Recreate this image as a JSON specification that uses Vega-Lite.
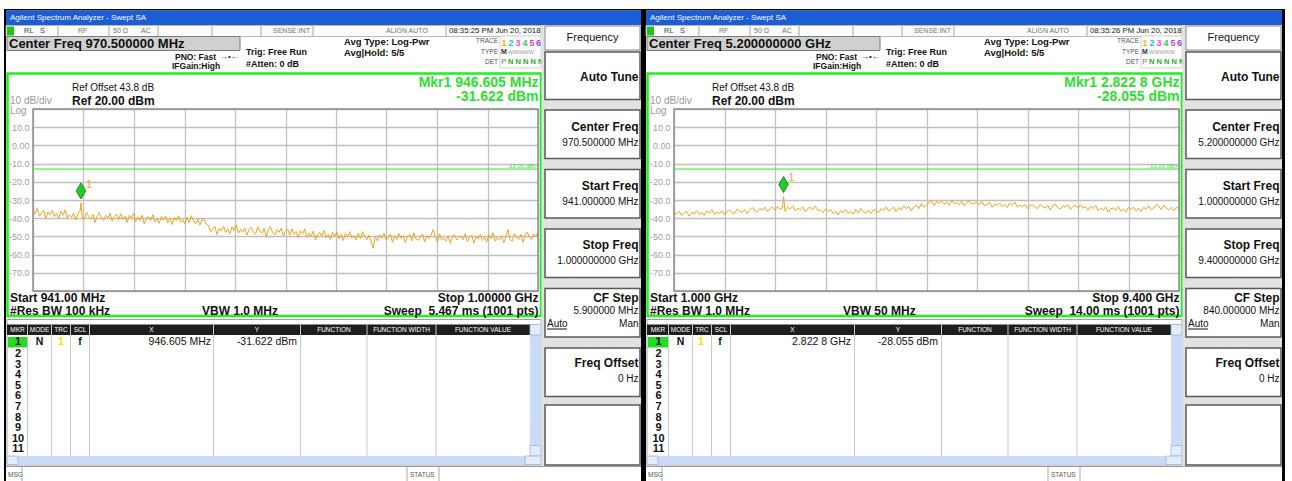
{
"$schema":"https://vega.github.io/schema/vega-lite/v6.json",
"background":"white",
"padding":{"left":4,"top":8,"right":0,"bottom":0},
"spacing":0,
"config":{"view":{"stroke":null},"font":"Liberation Sans","text":{"font":"Liberation Sans"},"axis":{"minExtent":0,"labelOverlap":false}},
"datasets":{
"left":[{"f":941.00,"p":-35.3},{"f":941.25,"p":-37.6},{"f":941.50,"p":-34.6},{"f":941.75,"p":-38.9},{"f":942.00,"p":-36.9},{"f":942.25,"p":-35.7},{"f":942.50,"p":-40.1},{"f":942.75,"p":-36.6},{"f":943.00,"p":-38.1},{"f":943.25,"p":-35.7},{"f":943.50,"p":-39.1},{"f":943.75,"p":-37.3},{"f":944.00,"p":-40.2},{"f":944.25,"p":-36.2},{"f":944.50,"p":-38.4},{"f":944.75,"p":-35.4},{"f":945.00,"p":-40.0},{"f":945.25,"p":-38.1},{"f":945.50,"p":-39.5},{"f":945.75,"p":-37.2},{"f":946.00,"p":-41.0},{"f":946.25,"p":-37.8},{"f":946.50,"p":-36.0},{"f":946.605,"p":-31.6},{"f":946.75,"p":-39.4},{"f":947.00,"p":-40.7},{"f":947.25,"p":-36.7},{"f":947.50,"p":-39.1},{"f":947.75,"p":-40.5},{"f":948.00,"p":-37.9},{"f":948.25,"p":-42.4},{"f":948.50,"p":-38.7},{"f":948.75,"p":-36.9},{"f":949.00,"p":-40.1},{"f":949.25,"p":-41.3},{"f":949.50,"p":-38.4},{"f":949.75,"p":-39.8},{"f":950.00,"p":-37.3},{"f":950.25,"p":-41.6},{"f":950.50,"p":-39.0},{"f":950.75,"p":-37.8},{"f":951.00,"p":-41.1},{"f":951.25,"p":-37.6},{"f":951.50,"p":-40.5},{"f":951.75,"p":-38.9},{"f":952.00,"p":-42.3},{"f":952.25,"p":-38.4},{"f":952.50,"p":-40.1},{"f":952.75,"p":-37.3},{"f":953.00,"p":-42.0},{"f":953.25,"p":-39.5},{"f":953.50,"p":-41.3},{"f":953.75,"p":-38.3},{"f":954.00,"p":-43.1},{"f":954.25,"p":-40.0},{"f":954.50,"p":-39.2},{"f":954.75,"p":-41.2},{"f":955.00,"p":-38.0},{"f":955.25,"p":-42.0},{"f":955.50,"p":-40.4},{"f":955.75,"p":-42.8},{"f":956.00,"p":-39.1},{"f":956.25,"p":-41.1},{"f":956.50,"p":-38.8},{"f":956.75,"p":-42.5},{"f":957.00,"p":-40.2},{"f":957.25,"p":-43.5},{"f":957.50,"p":-39.7},{"f":957.75,"p":-41.5},{"f":958.00,"p":-38.7},{"f":958.25,"p":-42.1},{"f":958.50,"p":-40.8},{"f":958.75,"p":-43.2},{"f":959.00,"p":-39.5},{"f":959.25,"p":-42.6},{"f":959.50,"p":-38.6},{"f":959.75,"p":-41.6},{"f":960.00,"p":-43.1},{"f":960.25,"p":-40.5},{"f":960.50,"p":-43.9},{"f":960.75,"p":-40.8},{"f":961.00,"p":-40.8},{"f":961.25,"p":-43.3},{"f":961.50,"p":-44.0},{"f":961.75,"p":-47.4},{"f":962.00,"p":-45.7},{"f":962.25,"p":-44.6},{"f":962.50,"p":-49.0},{"f":962.75,"p":-45.5},{"f":963.00,"p":-47.0},{"f":963.25,"p":-44.5},{"f":963.50,"p":-47.8},{"f":963.75,"p":-45.9},{"f":964.00,"p":-48.7},{"f":964.25,"p":-44.7},{"f":964.50,"p":-46.7},{"f":964.75,"p":-43.6},{"f":965.00,"p":-48.2},{"f":965.25,"p":-46.2},{"f":965.50,"p":-47.7},{"f":965.75,"p":-45.4},{"f":966.00,"p":-49.3},{"f":966.25,"p":-46.1},{"f":966.50,"p":-45.0},{"f":966.75,"p":-47.8},{"f":967.00,"p":-48.7},{"f":967.25,"p":-44.7},{"f":967.50,"p":-47.0},{"f":967.75,"p":-48.3},{"f":968.00,"p":-45.7},{"f":968.25,"p":-50.1},{"f":968.50,"p":-46.5},{"f":968.75,"p":-44.7},{"f":969.00,"p":-48.0},{"f":969.25,"p":-49.2},{"f":969.50,"p":-46.4},{"f":969.75,"p":-47.8},{"f":970.00,"p":-45.4},{"f":970.25,"p":-49.7},{"f":970.50,"p":-47.2},{"f":970.75,"p":-46.0},{"f":971.00,"p":-49.3},{"f":971.25,"p":-45.9},{"f":971.50,"p":-48.8},{"f":971.75,"p":-47.3},{"f":972.00,"p":-50.7},{"f":972.25,"p":-46.9},{"f":972.50,"p":-48.6},{"f":972.75,"p":-45.9},{"f":973.00,"p":-50.6},{"f":973.25,"p":-48.2},{"f":973.50,"p":-50.0},{"f":973.75,"p":-47.1},{"f":974.00,"p":-51.8},{"f":974.25,"p":-48.8},{"f":974.50,"p":-47.9},{"f":974.75,"p":-50.0},{"f":975.00,"p":-46.7},{"f":975.25,"p":-50.8},{"f":975.50,"p":-49.1},{"f":975.75,"p":-51.6},{"f":976.00,"p":-47.8},{"f":976.25,"p":-49.9},{"f":976.50,"p":-47.5},{"f":976.75,"p":-51.3},{"f":977.00,"p":-48.9},{"f":977.25,"p":-52.3},{"f":977.50,"p":-48.4},{"f":977.75,"p":-50.3},{"f":978.00,"p":-47.4},{"f":978.25,"p":-50.9},{"f":978.50,"p":-49.6},{"f":978.75,"p":-52.0},{"f":979.00,"p":-48.3},{"f":979.25,"p":-51.4},{"f":979.50,"p":-47.4},{"f":979.75,"p":-50.4},{"f":980.00,"p":-51.9},{"f":980.25,"p":-49.3},{"f":980.50,"p":-52.7},{"f":980.75,"p":-56.5},{"f":981.00,"p":-49.9},{"f":981.25,"p":-52.5},{"f":981.50,"p":-49.1},{"f":981.75,"p":-51.0},{"f":982.00,"p":-48.2},{"f":982.25,"p":-51.9},{"f":982.50,"p":-50.6},{"f":982.75,"p":-48.7},{"f":983.00,"p":-53.2},{"f":983.25,"p":-49.6},{"f":983.50,"p":-51.7},{"f":983.75,"p":-48.4},{"f":984.00,"p":-51.1},{"f":984.25,"p":-49.5},{"f":984.50,"p":-53.6},{"f":984.75,"p":-50.2},{"f":985.00,"p":-48.9},{"f":985.25,"p":-52.5},{"f":985.50,"p":-48.0},{"f":985.75,"p":-51.4},{"f":986.00,"p":-52.2},{"f":986.25,"p":-50.3},{"f":986.50,"p":-48.7},{"f":986.75,"p":-53.1},{"f":987.00,"p":-49.6},{"f":987.25,"p":-51.1},{"f":987.50,"p":-49.2},{"f":987.75,"p":-46.3},{"f":988.00,"p":-50.2},{"f":988.25,"p":-53.1},{"f":988.50,"p":-48.5},{"f":988.75,"p":-51.8},{"f":989.00,"p":-50.9},{"f":989.25,"p":-52.7},{"f":989.50,"p":-49.7},{"f":989.75,"p":-53.8},{"f":990.00,"p":-50.5},{"f":990.25,"p":-49.1},{"f":990.50,"p":-52.0},{"f":990.75,"p":-50.8},{"f":991.00,"p":-49.8},{"f":991.25,"p":-51.8},{"f":991.50,"p":-48.6},{"f":991.75,"p":-52.9},{"f":992.00,"p":-50.7},{"f":992.25,"p":-49.4},{"f":992.50,"p":-53.7},{"f":992.75,"p":-50.1},{"f":993.00,"p":-51.5},{"f":993.25,"p":-49.0},{"f":993.50,"p":-52.3},{"f":993.75,"p":-50.4},{"f":994.00,"p":-53.2},{"f":994.25,"p":-49.2},{"f":994.50,"p":-51.2},{"f":994.75,"p":-48.1},{"f":995.00,"p":-52.6},{"f":995.25,"p":-50.6},{"f":995.50,"p":-52.0},{"f":995.75,"p":-49.7},{"f":996.00,"p":-53.5},{"f":996.25,"p":-50.3},{"f":996.50,"p":-46.2},{"f":996.75,"p":-51.9},{"f":997.00,"p":-52.5},{"f":997.25,"p":-48.5},{"f":997.50,"p":-50.5},{"f":997.75,"p":-51.8},{"f":998.00,"p":-48.9},{"f":998.25,"p":-53.3},{"f":998.50,"p":-49.4},{"f":998.75,"p":-47.6},{"f":999.00,"p":-50.6},{"f":999.25,"p":-51.8},{"f":999.50,"p":-48.7},{"f":999.75,"p":-50.1},{"f":1000.00,"p":-47.5}],
"right":[{"f":1000,"p":-36.8},{"f":1042,"p":-38.0},{"f":1084,"p":-36.1},{"f":1126,"p":-38.5},{"f":1168,"p":-37.2},{"f":1210,"p":-36.4},{"f":1252,"p":-38.9},{"f":1294,"p":-36.8},{"f":1336,"p":-37.6},{"f":1378,"p":-36.0},{"f":1420,"p":-38.0},{"f":1462,"p":-36.8},{"f":1504,"p":-38.4},{"f":1546,"p":-36.0},{"f":1588,"p":-37.1},{"f":1630,"p":-35.3},{"f":1672,"p":-37.9},{"f":1714,"p":-36.7},{"f":1756,"p":-37.4},{"f":1798,"p":-36.0},{"f":1840,"p":-38.3},{"f":1882,"p":-36.3},{"f":1924,"p":-35.5},{"f":1966,"p":-37.0},{"f":2008,"p":-37.4},{"f":2050,"p":-34.9},{"f":2092,"p":-36.1},{"f":2134,"p":-36.8},{"f":2176,"p":-35.1},{"f":2218,"p":-37.6},{"f":2260,"p":-35.3},{"f":2302,"p":-34.1},{"f":2344,"p":-36.0},{"f":2386,"p":-36.6},{"f":2428,"p":-34.7},{"f":2470,"p":-35.5},{"f":2512,"p":-33.9},{"f":2554,"p":-36.4},{"f":2596,"p":-34.7},{"f":2638,"p":-33.9},{"f":2680,"p":-35.6},{"f":2722,"p":-33.5},{"f":2764,"p":-35.2},{"f":2806,"p":-34.3},{"f":2822.8,"p":-28.1},{"f":2848,"p":-36.2},{"f":2890,"p":-33.9},{"f":2932,"p":-34.9},{"f":2974,"p":-33.2},{"f":3016,"p":-35.9},{"f":3058,"p":-34.4},{"f":3100,"p":-35.5},{"f":3142,"p":-33.7},{"f":3184,"p":-36.5},{"f":3226,"p":-34.6},{"f":3268,"p":-34.1},{"f":3310,"p":-35.3},{"f":3352,"p":-33.3},{"f":3394,"p":-35.9},{"f":3436,"p":-35.2},{"f":3478,"p":-36.9},{"f":3520,"p":-34.9},{"f":3562,"p":-36.4},{"f":3604,"p":-35.2},{"f":3646,"p":-37.5},{"f":3688,"p":-36.2},{"f":3730,"p":-38.3},{"f":3772,"p":-35.9},{"f":3814,"p":-37.0},{"f":3856,"p":-35.2},{"f":3898,"p":-37.2},{"f":3940,"p":-36.3},{"f":3982,"p":-37.7},{"f":4024,"p":-35.3},{"f":4066,"p":-37.2},{"f":4108,"p":-34.6},{"f":4150,"p":-36.4},{"f":4192,"p":-37.2},{"f":4234,"p":-35.5},{"f":4276,"p":-37.4},{"f":4318,"p":-35.4},{"f":4360,"p":-35.4},{"f":4402,"p":-36.9},{"f":4444,"p":-34.8},{"f":4486,"p":-35.8},{"f":4528,"p":-33.9},{"f":4570,"p":-36.0},{"f":4612,"p":-35.2},{"f":4654,"p":-33.9},{"f":4696,"p":-36.4},{"f":4738,"p":-34.2},{"f":4780,"p":-35.3},{"f":4822,"p":-33.2},{"f":4864,"p":-34.7},{"f":4906,"p":-33.6},{"f":4948,"p":-36.0},{"f":4990,"p":-33.8},{"f":5032,"p":-32.8},{"f":5074,"p":-34.8},{"f":5116,"p":-32.0},{"f":5158,"p":-34.0},{"f":5200,"p":-32.7},{"f":5242,"p":-31.4},{"f":5284,"p":-30.4},{"f":5326,"p":-33.0},{"f":5368,"p":-30.9},{"f":5410,"p":-31.8},{"f":5452,"p":-30.6},{"f":5494,"p":-32.3},{"f":5536,"p":-31.2},{"f":5578,"p":-32.9},{"f":5620,"p":-30.2},{"f":5662,"p":-32.1},{"f":5704,"p":-31.5},{"f":5746,"p":-32.6},{"f":5788,"p":-30.8},{"f":5830,"p":-33.3},{"f":5872,"p":-31.3},{"f":5914,"p":-30.6},{"f":5956,"p":-32.3},{"f":5998,"p":-31.7},{"f":6040,"p":-31.2},{"f":6082,"p":-32.5},{"f":6124,"p":-30.7},{"f":6166,"p":-33.3},{"f":6208,"p":-32.1},{"f":6250,"p":-31.4},{"f":6292,"p":-34.1},{"f":6334,"p":-32.1},{"f":6376,"p":-33.0},{"f":6418,"p":-31.6},{"f":6460,"p":-33.6},{"f":6502,"p":-32.4},{"f":6544,"p":-34.1},{"f":6586,"p":-31.7},{"f":6628,"p":-32.9},{"f":6670,"p":-31.1},{"f":6712,"p":-33.9},{"f":6754,"p":-32.8},{"f":6796,"p":-33.7},{"f":6838,"p":-32.4},{"f":6880,"p":-34.8},{"f":6922,"p":-33.0},{"f":6964,"p":-32.4},{"f":7006,"p":-34.1},{"f":7048,"p":-34.7},{"f":7090,"p":-32.4},{"f":7132,"p":-33.7},{"f":7174,"p":-34.5},{"f":7216,"p":-32.9},{"f":7258,"p":-35.5},{"f":7300,"p":-33.3},{"f":7342,"p":-32.2},{"f":7384,"p":-34.2},{"f":7426,"p":-34.9},{"f":7468,"p":-33.1},{"f":7510,"p":-34.0},{"f":7552,"p":-32.5},{"f":7594,"p":-35.1},{"f":7636,"p":-33.5},{"f":7678,"p":-32.8},{"f":7720,"p":-34.7},{"f":7762,"p":-32.7},{"f":7804,"p":-34.5},{"f":7846,"p":-33.7},{"f":7888,"p":-35.7},{"f":7930,"p":-33.5},{"f":7972,"p":-34.6},{"f":8014,"p":-33.0},{"f":8056,"p":-35.8},{"f":8098,"p":-34.4},{"f":8140,"p":-35.5},{"f":8182,"p":-33.8},{"f":8224,"p":-36.7},{"f":8266,"p":-34.8},{"f":8308,"p":-34.4},{"f":8350,"p":-35.6},{"f":8392,"p":-33.7},{"f":8434,"p":-36.1},{"f":8476,"p":-35.1},{"f":8518,"p":-36.5},{"f":8560,"p":-34.1},{"f":8602,"p":-35.3},{"f":8644,"p":-33.8},{"f":8686,"p":-36.0},{"f":8728,"p":-34.5},{"f":8770,"p":-36.5},{"f":8812,"p":-34.0},{"f":8854,"p":-35.1},{"f":8896,"p":-33.3},{"f":8938,"p":-35.3},{"f":8980,"p":-34.4},{"f":9022,"p":-32.4},{"f":9064,"p":-33.4},{"f":9106,"p":-35.3},{"f":9148,"p":-32.8},{"f":9190,"p":-34.6},{"f":9232,"p":-35.5},{"f":9274,"p":-33.9},{"f":9316,"p":-35.9},{"f":9358,"p":-34.0},{"f":9400,"p":-34.8}]
},
"hconcat":[
{
"width":505,"height":182,
"resolve":{"scale":{"x":"independent","y":"independent"}},
"layer":[
{"data":{"values":[{}]},"layer":[
{"mark":{"type":"rect","fill":"#000000"},"encoding":{"x":{"datum":4,"type":"quantitative","scale":{"domain":[33,538],"nice":false,"zero":false},"axis":null},"x2":{"datum":644},"y":{"datum":8,"type":"quantitative","scale":{"domain":[108,290],"nice":false,"zero":false,"reverse":true},"axis":null},"y2":{"datum":9.5}}},
{"mark":{"type":"rect","fill":"#000000"},"encoding":{"x":{"datum":4,"type":"quantitative","axis":null},"x2":{"datum":6},"y":{"datum":8,"type":"quantitative","axis":null},"y2":{"datum":481}}},
{"mark":{"type":"rect","fill":"#000000"},"encoding":{"x":{"datum":641,"type":"quantitative","axis":null},"x2":{"datum":644},"y":{"datum":8,"type":"quantitative","axis":null},"y2":{"datum":481}}},
{"mark":{"type":"rect","fill":"#1b5dd5"},"encoding":{"x":{"datum":6,"type":"quantitative","axis":null},"x2":{"datum":641},"y":{"datum":9.5,"type":"quantitative","axis":null},"y2":{"datum":24}}},
{"mark":{"type":"text","text":"Agilent Spectrum Analyzer - Swept SA","align":"left","baseline":"middle","fontSize":8,"fill":"#ffffff"},"encoding":{"x":{"datum":10,"type":"quantitative","axis":null},"y":{"datum":16.8,"type":"quantitative","axis":null}}},
{"mark":{"type":"rect","fill":"#fbfbfb","stroke":"#a8a8a8","strokeWidth":0.8},"encoding":{"x":{"datum":6,"type":"quantitative","axis":null},"x2":{"datum":541},"y":{"datum":24.5,"type":"quantitative","axis":null},"y2":{"datum":35.5}}},
{"mark":{"type":"rect","fill":"#1fc21f"},"encoding":{"x":{"datum":7,"type":"quantitative","axis":null},"x2":{"datum":14},"y":{"datum":25.5,"type":"quantitative","axis":null},"y2":{"datum":34.5}}},
{"mark":{"type":"rule","stroke":"#a8a8a8"},"encoding":{"x":{"datum":58,"type":"quantitative","axis":null},"y":{"datum":25,"type":"quantitative","axis":null},"y2":{"datum":35.5}}},
{"mark":{"type":"rule","stroke":"#a8a8a8"},"encoding":{"x":{"datum":109,"type":"quantitative","axis":null},"y":{"datum":25,"type":"quantitative","axis":null},"y2":{"datum":35.5}}},
{"mark":{"type":"rule","stroke":"#a8a8a8"},"encoding":{"x":{"datum":158,"type":"quantitative","axis":null},"y":{"datum":25,"type":"quantitative","axis":null},"y2":{"datum":35.5}}},
{"mark":{"type":"rule","stroke":"#a8a8a8"},"encoding":{"x":{"datum":212,"type":"quantitative","axis":null},"y":{"datum":25,"type":"quantitative","axis":null},"y2":{"datum":35.5}}},
{"mark":{"type":"rule","stroke":"#a8a8a8"},"encoding":{"x":{"datum":261,"type":"quantitative","axis":null},"y":{"datum":25,"type":"quantitative","axis":null},"y2":{"datum":35.5}}},
{"mark":{"type":"rule","stroke":"#a8a8a8"},"encoding":{"x":{"datum":313,"type":"quantitative","axis":null},"y":{"datum":25,"type":"quantitative","axis":null},"y2":{"datum":35.5}}},
{"mark":{"type":"rule","stroke":"#a8a8a8"},"encoding":{"x":{"datum":446,"type":"quantitative","axis":null},"y":{"datum":25,"type":"quantitative","axis":null},"y2":{"datum":35.5}}},
{"mark":{"type":"text","text":"RL","align":"left","baseline":"middle","fontSize":7.5,"fill":"#444444"},"encoding":{"x":{"datum":24,"type":"quantitative","axis":null},"y":{"datum":30,"type":"quantitative","axis":null}}},
{"mark":{"type":"text","text":"S","align":"left","baseline":"middle","fontSize":7.5,"fill":"#444444"},"encoding":{"x":{"datum":40,"type":"quantitative","axis":null},"y":{"datum":30,"type":"quantitative","axis":null}}},
{"mark":{"type":"text","text":"RF","align":"left","baseline":"middle","fontSize":7,"fill":"#777777"},"encoding":{"x":{"datum":78,"type":"quantitative","axis":null},"y":{"datum":30,"type":"quantitative","axis":null}}},
{"mark":{"type":"text","text":"50 Ω","align":"left","baseline":"middle","fontSize":7,"fill":"#777777"},"encoding":{"x":{"datum":113,"type":"quantitative","axis":null},"y":{"datum":30,"type":"quantitative","axis":null}}},
{"mark":{"type":"text","text":"AC","align":"left","baseline":"middle","fontSize":7,"fill":"#777777"},"encoding":{"x":{"datum":141,"type":"quantitative","axis":null},"y":{"datum":30,"type":"quantitative","axis":null}}},
{"mark":{"type":"text","text":"SENSE:INT","align":"left","baseline":"middle","fontSize":7,"fill":"#777777"},"encoding":{"x":{"datum":273,"type":"quantitative","axis":null},"y":{"datum":30,"type":"quantitative","axis":null}}},
{"mark":{"type":"text","text":"ALIGN AUTO","align":"left","baseline":"middle","fontSize":7,"fill":"#777777"},"encoding":{"x":{"datum":386,"type":"quantitative","axis":null},"y":{"datum":30,"type":"quantitative","axis":null}}},
{"mark":{"type":"text","text":"08:35:25 PM Jun 20, 2018","align":"left","baseline":"middle","fontSize":7.8,"fill":"#222222"},"encoding":{"x":{"datum":449,"type":"quantitative","axis":null},"y":{"datum":30,"type":"quantitative","axis":null}}},
{"mark":{"type":"rect","fill":"#d0d0d0","stroke":"#7a7a7a","strokeWidth":1},"encoding":{"x":{"datum":7,"type":"quantitative","axis":null},"x2":{"datum":240},"y":{"datum":35.5,"type":"quantitative","axis":null},"y2":{"datum":49.5}}},
{"mark":{"type":"text","text":"Center Freq 970.500000 MHz","align":"left","baseline":"middle","fontSize":13,"fontWeight":"bold","fill":"#111111"},"encoding":{"x":{"datum":9,"type":"quantitative","axis":null},"y":{"datum":42.8,"type":"quantitative","axis":null}}},
{"mark":{"type":"text","text":"PNO: Fast","align":"left","baseline":"middle","fontSize":8.5,"fontWeight":"bold","fill":"#111111"},"encoding":{"x":{"datum":175,"type":"quantitative","axis":null},"y":{"datum":55.5,"type":"quantitative","axis":null}}},
{"mark":{"type":"text","text":"→•←","align":"left","baseline":"middle","fontSize":8,"fill":"#222222"},"encoding":{"x":{"datum":220,"type":"quantitative","axis":null},"y":{"datum":55.5,"type":"quantitative","axis":null}}},
{"mark":{"type":"text","text":"IFGain:High","align":"left","baseline":"middle","fontSize":8.5,"fontWeight":"bold","fill":"#111111"},"encoding":{"x":{"datum":172,"type":"quantitative","axis":null},"y":{"datum":64.5,"type":"quantitative","axis":null}}},
{"mark":{"type":"text","text":"Trig: Free Run","align":"left","baseline":"middle","fontSize":9,"fontWeight":"bold","fill":"#111111"},"encoding":{"x":{"datum":246,"type":"quantitative","axis":null},"y":{"datum":51,"type":"quantitative","axis":null}}},
{"mark":{"type":"text","text":"#Atten: 0 dB","align":"left","baseline":"middle","fontSize":9,"fontWeight":"bold","fill":"#111111"},"encoding":{"x":{"datum":246,"type":"quantitative","axis":null},"y":{"datum":62.5,"type":"quantitative","axis":null}}},
{"mark":{"type":"text","text":"Avg Type: Log-Pwr","align":"left","baseline":"middle","fontSize":9.5,"fontWeight":"bold","fill":"#111111"},"encoding":{"x":{"datum":344,"type":"quantitative","axis":null},"y":{"datum":40.5,"type":"quantitative","axis":null}}},
{"mark":{"type":"text","text":"Avg|Hold: 5/5","align":"left","baseline":"middle","fontSize":9.5,"fontWeight":"bold","fill":"#111111"},"encoding":{"x":{"datum":344,"type":"quantitative","axis":null},"y":{"datum":51.5,"type":"quantitative","axis":null}}},
{"mark":{"type":"rect","fill":"#ffffff","stroke":"#c4c4c4","strokeWidth":0.8},"encoding":{"x":{"datum":500,"type":"quantitative","axis":null},"x2":{"datum":541},"y":{"datum":35,"type":"quantitative","axis":null},"y2":{"datum":67}}},
{"mark":{"type":"text","text":"TRACE","align":"right","baseline":"middle","fontSize":6.5,"fill":"#555555"},"encoding":{"x":{"datum":498,"type":"quantitative","axis":null},"y":{"datum":40,"type":"quantitative","axis":null}}},
{"mark":{"type":"text","text":"TYPE","align":"right","baseline":"middle","fontSize":6.5,"fill":"#555555"},"encoding":{"x":{"datum":498,"type":"quantitative","axis":null},"y":{"datum":50.5,"type":"quantitative","axis":null}}},
{"mark":{"type":"text","text":"DET","align":"right","baseline":"middle","fontSize":6.5,"fill":"#555555"},"encoding":{"x":{"datum":498,"type":"quantitative","axis":null},"y":{"datum":60.5,"type":"quantitative","axis":null}}},
{"mark":{"type":"text","text":"1","align":"center","baseline":"middle","fontSize":9,"fontWeight":"bold","fill":"#e6c000"},"encoding":{"x":{"datum":504,"type":"quantitative","axis":null},"y":{"datum":41.5,"type":"quantitative","axis":null}}},
{"mark":{"type":"text","text":"2","align":"center","baseline":"middle","fontSize":9,"fontWeight":"bold","fill":"#22bbee"},"encoding":{"x":{"datum":511,"type":"quantitative","axis":null},"y":{"datum":41.5,"type":"quantitative","axis":null}}},
{"mark":{"type":"text","text":"3","align":"center","baseline":"middle","fontSize":9,"fontWeight":"bold","fill":"#ff44ff"},"encoding":{"x":{"datum":518,"type":"quantitative","axis":null},"y":{"datum":41.5,"type":"quantitative","axis":null}}},
{"mark":{"type":"text","text":"4","align":"center","baseline":"middle","fontSize":9,"fontWeight":"bold","fill":"#33cc55"},"encoding":{"x":{"datum":525,"type":"quantitative","axis":null},"y":{"datum":41.5,"type":"quantitative","axis":null}}},
{"mark":{"type":"text","text":"5","align":"center","baseline":"middle","fontSize":9,"fontWeight":"bold","fill":"#dd44aa"},"encoding":{"x":{"datum":532,"type":"quantitative","axis":null},"y":{"datum":41.5,"type":"quantitative","axis":null}}},
{"mark":{"type":"text","text":"6","align":"center","baseline":"middle","fontSize":9,"fontWeight":"bold","fill":"#8844ff"},"encoding":{"x":{"datum":538.5,"type":"quantitative","axis":null},"y":{"datum":41.5,"type":"quantitative","axis":null}}},
{"mark":{"type":"text","text":"M","align":"center","baseline":"middle","fontSize":7,"fontWeight":"bold","fill":"#333333"},"encoding":{"x":{"datum":504,"type":"quantitative","axis":null},"y":{"datum":50.5,"type":"quantitative","axis":null}}},
{"mark":{"type":"text","text":"WWWWW","align":"left","baseline":"middle","fontSize":5.5,"fill":"#9a9a9a"},"encoding":{"x":{"datum":508,"type":"quantitative","axis":null},"y":{"datum":50.5,"type":"quantitative","axis":null}}},
{"mark":{"type":"text","text":"P","align":"center","baseline":"middle","fontSize":8,"fill":"#777777"},"encoding":{"x":{"datum":504,"type":"quantitative","axis":null},"y":{"datum":60.5,"type":"quantitative","axis":null}}},
{"mark":{"type":"text","text":"N N N N N","align":"left","baseline":"middle","fontSize":7.5,"fontWeight":"bold","fill":"#1fb01f"},"encoding":{"x":{"datum":508,"type":"quantitative","axis":null},"y":{"datum":60.5,"type":"quantitative","axis":null}}},
{"mark":{"type":"rect","fill":"transparent","stroke":"#1ff01f","strokeWidth":2.5},"encoding":{"x":{"datum":7.5,"type":"quantitative","axis":null},"x2":{"datum":541},"y":{"datum":72.5,"type":"quantitative","axis":null},"y2":{"datum":315}}},
{"mark":{"type":"text","text":"Ref Offset 43.8 dB","align":"left","baseline":"middle","fontSize":10,"fill":"#111111"},"encoding":{"x":{"datum":72,"type":"quantitative","axis":null},"y":{"datum":87,"type":"quantitative","axis":null}}},
{"mark":{"type":"text","text":"Ref 20.00 dBm","align":"left","baseline":"middle","fontSize":12,"fontWeight":"bold","fill":"#111111"},"encoding":{"x":{"datum":72,"type":"quantitative","axis":null},"y":{"datum":99.5,"type":"quantitative","axis":null}}},
{"mark":{"type":"text","text":"10 dB/div","align":"left","baseline":"middle","fontSize":10,"fill":"#9a9a9a"},"encoding":{"x":{"datum":10,"type":"quantitative","axis":null},"y":{"datum":100,"type":"quantitative","axis":null}}},
{"mark":{"type":"text","text":"Log","align":"left","baseline":"middle","fontSize":10,"fill":"#9a9a9a"},"encoding":{"x":{"datum":10,"type":"quantitative","axis":null},"y":{"datum":110,"type":"quantitative","axis":null}}},
{"mark":{"type":"text","text":"Mkr1 946.605 MHz","align":"right","baseline":"middle","fontSize":14,"fontWeight":"bold","fill":"#2fdf2f"},"encoding":{"x":{"datum":538.5,"type":"quantitative","axis":null},"y":{"datum":81.5,"type":"quantitative","axis":null}}},
{"mark":{"type":"text","text":"-31.622 dBm","align":"right","baseline":"middle","fontSize":14,"fontWeight":"bold","fill":"#2fdf2f"},"encoding":{"x":{"datum":538.5,"type":"quantitative","axis":null},"y":{"datum":96,"type":"quantitative","axis":null}}},
{"mark":{"type":"text","text":"Start 941.00 MHz","align":"left","baseline":"middle","fontSize":12,"fontWeight":"bold","fill":"#111111"},"encoding":{"x":{"datum":10,"type":"quantitative","axis":null},"y":{"datum":296.5,"type":"quantitative","axis":null}}},
{"mark":{"type":"text","text":"Stop 1.00000 GHz","align":"right","baseline":"middle","fontSize":12,"fontWeight":"bold","fill":"#111111"},"encoding":{"x":{"datum":538.5,"type":"quantitative","axis":null},"y":{"datum":296.5,"type":"quantitative","axis":null}}},
{"mark":{"type":"text","text":"#Res BW 100 kHz","align":"left","baseline":"middle","fontSize":12,"fontWeight":"bold","fill":"#111111"},"encoding":{"x":{"datum":10,"type":"quantitative","axis":null},"y":{"datum":309.5,"type":"quantitative","axis":null}}},
{"mark":{"type":"text","text":"VBW 1.0 MHz","align":"left","baseline":"middle","fontSize":12,"fontWeight":"bold","fill":"#111111"},"encoding":{"x":{"datum":202,"type":"quantitative","axis":null},"y":{"datum":309.5,"type":"quantitative","axis":null}}},
{"mark":{"type":"text","text":"Sweep\u00a0\u00a05.467 ms (1001 pts)","align":"right","baseline":"middle","fontSize":12,"fontWeight":"bold","fill":"#111111"},"encoding":{"x":{"datum":538.5,"type":"quantitative","axis":null},"y":{"datum":309.5,"type":"quantitative","axis":null}}},
{"mark":{"type":"rect","fill":"transparent","stroke":"#a0a0a0","strokeWidth":1},"encoding":{"x":{"datum":7,"type":"quantitative","axis":null},"x2":{"datum":541},"y":{"datum":318.5,"type":"quantitative","axis":null},"y2":{"datum":464}}},
{"mark":{"type":"rect","fill":"#1e1e1e"},"encoding":{"x":{"datum":7,"type":"quantitative","axis":null},"x2":{"datum":530},"y":{"datum":323.5,"type":"quantitative","axis":null},"y2":{"datum":334}}},
{"mark":{"type":"rule","stroke":"#c8c8c8"},"encoding":{"x":{"datum":27.5,"type":"quantitative","axis":null},"y":{"datum":323.5,"type":"quantitative","axis":null},"y2":{"datum":455}}},
{"mark":{"type":"rule","stroke":"#c8c8c8"},"encoding":{"x":{"datum":51.5,"type":"quantitative","axis":null},"y":{"datum":323.5,"type":"quantitative","axis":null},"y2":{"datum":455}}},
{"mark":{"type":"rule","stroke":"#c8c8c8"},"encoding":{"x":{"datum":70.5,"type":"quantitative","axis":null},"y":{"datum":323.5,"type":"quantitative","axis":null},"y2":{"datum":455}}},
{"mark":{"type":"rule","stroke":"#c8c8c8"},"encoding":{"x":{"datum":89.5,"type":"quantitative","axis":null},"y":{"datum":323.5,"type":"quantitative","axis":null},"y2":{"datum":455}}},
{"mark":{"type":"rule","stroke":"#c8c8c8"},"encoding":{"x":{"datum":213.5,"type":"quantitative","axis":null},"y":{"datum":323.5,"type":"quantitative","axis":null},"y2":{"datum":455}}},
{"mark":{"type":"rule","stroke":"#c8c8c8"},"encoding":{"x":{"datum":300.5,"type":"quantitative","axis":null},"y":{"datum":323.5,"type":"quantitative","axis":null},"y2":{"datum":455}}},
{"mark":{"type":"rule","stroke":"#c8c8c8"},"encoding":{"x":{"datum":367,"type":"quantitative","axis":null},"y":{"datum":323.5,"type":"quantitative","axis":null},"y2":{"datum":455}}},
{"mark":{"type":"rule","stroke":"#c8c8c8"},"encoding":{"x":{"datum":436,"type":"quantitative","axis":null},"y":{"datum":323.5,"type":"quantitative","axis":null},"y2":{"datum":455}}},
{"mark":{"type":"text","text":"MKR","align":"center","baseline":"middle","fontSize":6.5,"fill":"#ffffff"},"encoding":{"x":{"datum":17.5,"type":"quantitative","axis":null},"y":{"datum":329,"type":"quantitative","axis":null}}},
{"mark":{"type":"text","text":"MODE","align":"center","baseline":"middle","fontSize":6.5,"fill":"#ffffff"},"encoding":{"x":{"datum":39.5,"type":"quantitative","axis":null},"y":{"datum":329,"type":"quantitative","axis":null}}},
{"mark":{"type":"text","text":"TRC","align":"center","baseline":"middle","fontSize":6.5,"fill":"#ffffff"},"encoding":{"x":{"datum":61,"type":"quantitative","axis":null},"y":{"datum":329,"type":"quantitative","axis":null}}},
{"mark":{"type":"text","text":"SCL","align":"center","baseline":"middle","fontSize":6.5,"fill":"#ffffff"},"encoding":{"x":{"datum":80,"type":"quantitative","axis":null},"y":{"datum":329,"type":"quantitative","axis":null}}},
{"mark":{"type":"text","text":"X","align":"center","baseline":"middle","fontSize":6.5,"fill":"#ffffff"},"encoding":{"x":{"datum":151.5,"type":"quantitative","axis":null},"y":{"datum":329,"type":"quantitative","axis":null}}},
{"mark":{"type":"text","text":"Y","align":"center","baseline":"middle","fontSize":6.5,"fill":"#ffffff"},"encoding":{"x":{"datum":257,"type":"quantitative","axis":null},"y":{"datum":329,"type":"quantitative","axis":null}}},
{"mark":{"type":"text","text":"FUNCTION","align":"center","baseline":"middle","fontSize":6.5,"fill":"#ffffff"},"encoding":{"x":{"datum":334,"type":"quantitative","axis":null},"y":{"datum":329,"type":"quantitative","axis":null}}},
{"mark":{"type":"text","text":"FUNCTION WIDTH","align":"center","baseline":"middle","fontSize":6.5,"fill":"#ffffff"},"encoding":{"x":{"datum":401.5,"type":"quantitative","axis":null},"y":{"datum":329,"type":"quantitative","axis":null}}},
{"mark":{"type":"text","text":"FUNCTION VALUE","align":"center","baseline":"middle","fontSize":6.5,"fill":"#ffffff"},"encoding":{"x":{"datum":483,"type":"quantitative","axis":null},"y":{"datum":329,"type":"quantitative","axis":null}}},
{"mark":{"type":"rect","fill":"#22dd22"},"encoding":{"x":{"datum":8,"type":"quantitative","axis":null},"x2":{"datum":27},"y":{"datum":336,"type":"quantitative","axis":null},"y2":{"datum":346.5}}},
{"mark":{"type":"text","text":"1","align":"center","baseline":"middle","fontSize":11,"fontWeight":"bold","fill":"#111111"},"encoding":{"x":{"datum":18,"type":"quantitative","axis":null},"y":{"datum":341.3,"type":"quantitative","axis":null}}},
{"mark":{"type":"text","text":["2","3","4","5","6","7","8","9","10","11"],"lineHeight":10.6,"align":"center","baseline":"top","fontSize":11,"fontWeight":"bold","fill":"#111111"},"encoding":{"x":{"datum":18,"type":"quantitative","axis":null},"y":{"datum":347,"type":"quantitative","axis":null}}},
{"mark":{"type":"text","text":"N","align":"center","baseline":"middle","fontSize":10.5,"fontWeight":"bold","fill":"#111111"},"encoding":{"x":{"datum":39.5,"type":"quantitative","axis":null},"y":{"datum":341.3,"type":"quantitative","axis":null}}},
{"mark":{"type":"text","text":"1","align":"center","baseline":"middle","fontSize":10.5,"fontWeight":"bold","fill":"#f2e200"},"encoding":{"x":{"datum":61,"type":"quantitative","axis":null},"y":{"datum":341.3,"type":"quantitative","axis":null}}},
{"mark":{"type":"text","text":"f","align":"center","baseline":"middle","fontSize":10.5,"fontWeight":"bold","fill":"#111111"},"encoding":{"x":{"datum":80,"type":"quantitative","axis":null},"y":{"datum":341.3,"type":"quantitative","axis":null}}},
{"mark":{"type":"text","text":"946.605 MHz","align":"right","baseline":"middle","fontSize":10.5,"fill":"#111111"},"encoding":{"x":{"datum":211,"type":"quantitative","axis":null},"y":{"datum":341.3,"type":"quantitative","axis":null}}},
{"mark":{"type":"text","text":"-31.622 dBm","align":"right","baseline":"middle","fontSize":10.5,"fill":"#111111"},"encoding":{"x":{"datum":297,"type":"quantitative","axis":null},"y":{"datum":341.3,"type":"quantitative","axis":null}}},
{"mark":{"type":"rect","fill":"#c9dbf7"},"encoding":{"x":{"datum":530,"type":"quantitative","axis":null},"x2":{"datum":541},"y":{"datum":323.5,"type":"quantitative","axis":null},"y2":{"datum":455}}},
{"mark":{"type":"rect","fill":"#e3ecfa","stroke":"#9fb4d8","strokeWidth":0.8},"encoding":{"x":{"datum":530,"type":"quantitative","axis":null},"x2":{"datum":541},"y":{"datum":323.5,"type":"quantitative","axis":null},"y2":{"datum":334}}},
{"mark":{"type":"rect","fill":"#e3ecfa","stroke":"#9fb4d8","strokeWidth":0.8},"encoding":{"x":{"datum":530,"type":"quantitative","axis":null},"x2":{"datum":541},"y":{"datum":444.5,"type":"quantitative","axis":null},"y2":{"datum":455}}},
{"mark":{"type":"rect","fill":"#c9dbf7"},"encoding":{"x":{"datum":7,"type":"quantitative","axis":null},"x2":{"datum":541},"y":{"datum":455,"type":"quantitative","axis":null},"y2":{"datum":463.5}}},
{"mark":{"type":"rect","fill":"#e3ecfa","stroke":"#9fb4d8","strokeWidth":0.8},"encoding":{"x":{"datum":7,"type":"quantitative","axis":null},"x2":{"datum":18},"y":{"datum":455,"type":"quantitative","axis":null},"y2":{"datum":463.5}}},
{"mark":{"type":"rect","fill":"#e3ecfa","stroke":"#9fb4d8","strokeWidth":0.8},"encoding":{"x":{"datum":525,"type":"quantitative","axis":null},"x2":{"datum":541},"y":{"datum":455,"type":"quantitative","axis":null},"y2":{"datum":463.5}}},
{"mark":{"type":"rule","stroke":"#9a9a9a"},"encoding":{"x":{"datum":6,"type":"quantitative","axis":null},"x2":{"datum":641},"y":{"datum":465.5,"type":"quantitative","axis":null}}},
{"mark":{"type":"text","text":"MSG","align":"left","baseline":"middle","fontSize":6.5,"fill":"#555555"},"encoding":{"x":{"datum":8,"type":"quantitative","axis":null},"y":{"datum":474,"type":"quantitative","axis":null}}},
{"mark":{"type":"rule","stroke":"#aaaaaa"},"encoding":{"x":{"datum":22,"type":"quantitative","axis":null},"y":{"datum":466,"type":"quantitative","axis":null},"y2":{"datum":481}}},
{"mark":{"type":"rule","stroke":"#aaaaaa"},"encoding":{"x":{"datum":407,"type":"quantitative","axis":null},"y":{"datum":466,"type":"quantitative","axis":null},"y2":{"datum":481}}},
{"mark":{"type":"rule","stroke":"#aaaaaa"},"encoding":{"x":{"datum":439,"type":"quantitative","axis":null},"y":{"datum":466,"type":"quantitative","axis":null},"y2":{"datum":481}}},
{"mark":{"type":"text","text":"STATUS","align":"left","baseline":"middle","fontSize":6.5,"fill":"#555555"},"encoding":{"x":{"datum":410,"type":"quantitative","axis":null},"y":{"datum":474,"type":"quantitative","axis":null}}},
{"mark":{"type":"rect","fill":"#e2e2e2"},"encoding":{"x":{"datum":541.5,"type":"quantitative","axis":null},"x2":{"datum":641},"y":{"datum":24,"type":"quantitative","axis":null},"y2":{"datum":465}}},
{"mark":{"type":"rect","fill":"#ffffff","stroke":"#8a8a8a","strokeWidth":1},"encoding":{"x":{"datum":545,"type":"quantitative","axis":null},"x2":{"datum":640},"y":{"datum":25,"type":"quantitative","axis":null},"y2":{"datum":49}}},
{"mark":{"type":"rect","fill":"#ffffff","stroke":"#5a5a5a","strokeWidth":1.5},"encoding":{"x":{"datum":545,"type":"quantitative","axis":null},"x2":{"datum":640},"y":{"datum":51,"type":"quantitative","axis":null},"y2":{"datum":98.5}}},
{"mark":{"type":"rect","fill":"#ffffff","stroke":"#5a5a5a","strokeWidth":1.5},"encoding":{"x":{"datum":545,"type":"quantitative","axis":null},"x2":{"datum":640},"y":{"datum":109,"type":"quantitative","axis":null},"y2":{"datum":157.5}}},
{"mark":{"type":"rect","fill":"#ffffff","stroke":"#5a5a5a","strokeWidth":1.5},"encoding":{"x":{"datum":545,"type":"quantitative","axis":null},"x2":{"datum":640},"y":{"datum":168.5,"type":"quantitative","axis":null},"y2":{"datum":217}}},
{"mark":{"type":"rect","fill":"#ffffff","stroke":"#5a5a5a","strokeWidth":1.5},"encoding":{"x":{"datum":545,"type":"quantitative","axis":null},"x2":{"datum":640},"y":{"datum":228,"type":"quantitative","axis":null},"y2":{"datum":276.5}}},
{"mark":{"type":"rect","fill":"#ffffff","stroke":"#5a5a5a","strokeWidth":1.5},"encoding":{"x":{"datum":545,"type":"quantitative","axis":null},"x2":{"datum":640},"y":{"datum":287.5,"type":"quantitative","axis":null},"y2":{"datum":336}}},
{"mark":{"type":"rect","fill":"#ffffff","stroke":"#5a5a5a","strokeWidth":1.5},"encoding":{"x":{"datum":545,"type":"quantitative","axis":null},"x2":{"datum":640},"y":{"datum":347,"type":"quantitative","axis":null},"y2":{"datum":395.5}}},
{"mark":{"type":"rect","fill":"#ffffff","stroke":"#5a5a5a","strokeWidth":1.5},"encoding":{"x":{"datum":545,"type":"quantitative","axis":null},"x2":{"datum":640},"y":{"datum":404,"type":"quantitative","axis":null},"y2":{"datum":464}}},
{"mark":{"type":"text","text":"Frequency","align":"center","baseline":"middle","fontSize":11,"fill":"#111111"},"encoding":{"x":{"datum":592.5,"type":"quantitative","axis":null},"y":{"datum":37,"type":"quantitative","axis":null}}},
{"mark":{"type":"text","text":"Auto Tune","align":"right","baseline":"middle","fontSize":12,"fontWeight":"bold","fill":"#111111"},"encoding":{"x":{"datum":638.5,"type":"quantitative","axis":null},"y":{"datum":76,"type":"quantitative","axis":null}}},
{"mark":{"type":"text","text":"Center Freq","align":"right","baseline":"middle","fontSize":12,"fontWeight":"bold","fill":"#111111"},"encoding":{"x":{"datum":638.5,"type":"quantitative","axis":null},"y":{"datum":126,"type":"quantitative","axis":null}}},
{"mark":{"type":"text","text":"970.500000 MHz","align":"right","baseline":"middle","fontSize":10,"fill":"#111111"},"encoding":{"x":{"datum":638.5,"type":"quantitative","axis":null},"y":{"datum":141.7,"type":"quantitative","axis":null}}},
{"mark":{"type":"text","text":"Start Freq","align":"right","baseline":"middle","fontSize":12,"fontWeight":"bold","fill":"#111111"},"encoding":{"x":{"datum":638.5,"type":"quantitative","axis":null},"y":{"datum":185,"type":"quantitative","axis":null}}},
{"mark":{"type":"text","text":"941.000000 MHz","align":"right","baseline":"middle","fontSize":10,"fill":"#111111"},"encoding":{"x":{"datum":638.5,"type":"quantitative","axis":null},"y":{"datum":200.7,"type":"quantitative","axis":null}}},
{"mark":{"type":"text","text":"Stop Freq","align":"right","baseline":"middle","fontSize":12,"fontWeight":"bold","fill":"#111111"},"encoding":{"x":{"datum":638.5,"type":"quantitative","axis":null},"y":{"datum":244.3,"type":"quantitative","axis":null}}},
{"mark":{"type":"text","text":"1.000000000 GHz","align":"right","baseline":"middle","fontSize":10,"fill":"#111111"},"encoding":{"x":{"datum":638.5,"type":"quantitative","axis":null},"y":{"datum":260,"type":"quantitative","axis":null}}},
{"mark":{"type":"text","text":"CF Step","align":"right","baseline":"middle","fontSize":12,"fontWeight":"bold","fill":"#111111"},"encoding":{"x":{"datum":638.5,"type":"quantitative","axis":null},"y":{"datum":297,"type":"quantitative","axis":null}}},
{"mark":{"type":"text","text":"5.900000 MHz","align":"right","baseline":"middle","fontSize":10,"fill":"#111111"},"encoding":{"x":{"datum":638.5,"type":"quantitative","axis":null},"y":{"datum":310,"type":"quantitative","axis":null}}},
{"mark":{"type":"text","text":"Auto","align":"left","baseline":"middle","fontSize":10,"fill":"#111111"},"encoding":{"x":{"datum":547,"type":"quantitative","axis":null},"y":{"datum":322.7,"type":"quantitative","axis":null}}},
{"mark":{"type":"rule","stroke":"#111111"},"encoding":{"x":{"datum":547,"type":"quantitative","axis":null},"x2":{"datum":567},"y":{"datum":328,"type":"quantitative","axis":null}}},
{"mark":{"type":"text","text":"Man","align":"right","baseline":"middle","fontSize":10,"fill":"#111111"},"encoding":{"x":{"datum":638.5,"type":"quantitative","axis":null},"y":{"datum":322.7,"type":"quantitative","axis":null}}},
{"mark":{"type":"text","text":"Freq Offset","align":"right","baseline":"middle","fontSize":12,"fontWeight":"bold","fill":"#111111"},"encoding":{"x":{"datum":638.5,"type":"quantitative","axis":null},"y":{"datum":362,"type":"quantitative","axis":null}}},
{"mark":{"type":"text","text":"0 Hz","align":"right","baseline":"middle","fontSize":10,"fill":"#111111"},"encoding":{"x":{"datum":638.5,"type":"quantitative","axis":null},"y":{"datum":378.3,"type":"quantitative","axis":null}}}
]},
{"data":{"values":[{}]},"layer":[
{"data":{"name":"left"},"mark":{"type":"line","stroke":"#f7a21b","strokeWidth":1},"encoding":{"x":{"field":"f","type":"quantitative","scale":{"domain":[941,1000],"nice":false,"zero":false},"axis":{"values":[941,946.9,952.8,958.7,964.6,970.5,976.4,982.3,988.2,994.1,1000],"tickCount":20,"grid":true,"gridColor":"#c0c0c0","gridWidth":1.3,"labels":false,"ticks":false,"domain":false,"title":null,"minExtent":0}},"y":{"field":"p","type":"quantitative","scale":{"domain":[-80,20],"nice":false,"zero":false},"axis":{"values":[20,10,0,-10,-20,-30,-40,-50,-60,-70,-80],"tickCount":20,"labelOverlap":false,"grid":true,"gridColor":"#c0c0c0","gridWidth":1.3,"ticks":false,"domain":false,"title":null,"labelExpr":"datum.value == 0 ? '0.00' : ((datum.value >= 20 || datum.value <= -80) ? '' : datum.value + '.0')","labelFont":"Liberation Sans","labelFontSize":9,"labelColor":"#a0a0a0","labelPadding":4,"minExtent":0}}}},
{"mark":{"type":"rect","fill":"transparent","stroke":"#8c8c8c","strokeWidth":1.5},"encoding":{"x":{"datum":941,"type":"quantitative"},"x2":{"datum":1000},"y":{"datum":-80,"type":"quantitative"},"y2":{"datum":20}}},
{"mark":{"type":"rule","stroke":"#3ddc3d","strokeWidth":1},"encoding":{"x":{"datum":941,"type":"quantitative"},"x2":{"datum":1000},"y":{"datum":-13,"type":"quantitative"}}},
{"mark":{"type":"text","text":"-13.00 dBm","align":"right","baseline":"bottom","fontSize":6,"fill":"#3ddc3d","dy":-0.5},"encoding":{"x":{"datum":1000,"type":"quantitative"},"y":{"datum":-13,"type":"quantitative"}}},
{"mark":{"type":"point","shape":"M0,-1L0.6,0L0,1L-0.6,0Z","size":256,"filled":true,"fill":"#22cc22","stroke":"#0c6e0c","strokeWidth":0.8,"opacity":1},"encoding":{"x":{"datum":946.605,"type":"quantitative"},"y":{"datum":-25,"type":"quantitative"}}},
{"mark":{"type":"text","text":"1","align":"left","baseline":"middle","fontSize":11,"fill":"#f7a21b","dx":5},"encoding":{"x":{"datum":946.605,"type":"quantitative"},"y":{"datum":-21.5,"type":"quantitative"}}}
]}
]
},
{
"width":505,"height":182,
"resolve":{"scale":{"x":"independent","y":"independent"}},
"layer":[
{"data":{"values":[{}]},"layer":[
{"mark":{"type":"rect","fill":"#000000"},"encoding":{"x":{"datum":3,"type":"quantitative","scale":{"domain":[33,538],"nice":false,"zero":false},"axis":null},"x2":{"datum":644},"y":{"datum":8,"type":"quantitative","scale":{"domain":[108,290],"nice":false,"zero":false,"reverse":true},"axis":null},"y2":{"datum":9.5}}},
{"mark":{"type":"rect","fill":"#000000"},"encoding":{"x":{"datum":3,"type":"quantitative","axis":null},"x2":{"datum":5},"y":{"datum":8,"type":"quantitative","axis":null},"y2":{"datum":481}}},
{"mark":{"type":"rect","fill":"#000000"},"encoding":{"x":{"datum":641,"type":"quantitative","axis":null},"x2":{"datum":644},"y":{"datum":8,"type":"quantitative","axis":null},"y2":{"datum":481}}},
{"mark":{"type":"rect","fill":"#1b5dd5"},"encoding":{"x":{"datum":5,"type":"quantitative","axis":null},"x2":{"datum":641},"y":{"datum":9.5,"type":"quantitative","axis":null},"y2":{"datum":24}}},
{"mark":{"type":"text","text":"Agilent Spectrum Analyzer - Swept SA","align":"left","baseline":"middle","fontSize":8,"fill":"#ffffff"},"encoding":{"x":{"datum":9,"type":"quantitative","axis":null},"y":{"datum":16.8,"type":"quantitative","axis":null}}},
{"mark":{"type":"rect","fill":"#fbfbfb","stroke":"#a8a8a8","strokeWidth":0.8},"encoding":{"x":{"datum":5,"type":"quantitative","axis":null},"x2":{"datum":541},"y":{"datum":24.5,"type":"quantitative","axis":null},"y2":{"datum":35.5}}},
{"mark":{"type":"rect","fill":"#1fc21f"},"encoding":{"x":{"datum":6,"type":"quantitative","axis":null},"x2":{"datum":13},"y":{"datum":25.5,"type":"quantitative","axis":null},"y2":{"datum":34.5}}},
{"mark":{"type":"rule","stroke":"#a8a8a8"},"encoding":{"x":{"datum":58,"type":"quantitative","axis":null},"y":{"datum":25,"type":"quantitative","axis":null},"y2":{"datum":35.5}}},
{"mark":{"type":"rule","stroke":"#a8a8a8"},"encoding":{"x":{"datum":109,"type":"quantitative","axis":null},"y":{"datum":25,"type":"quantitative","axis":null},"y2":{"datum":35.5}}},
{"mark":{"type":"rule","stroke":"#a8a8a8"},"encoding":{"x":{"datum":158,"type":"quantitative","axis":null},"y":{"datum":25,"type":"quantitative","axis":null},"y2":{"datum":35.5}}},
{"mark":{"type":"rule","stroke":"#a8a8a8"},"encoding":{"x":{"datum":212,"type":"quantitative","axis":null},"y":{"datum":25,"type":"quantitative","axis":null},"y2":{"datum":35.5}}},
{"mark":{"type":"rule","stroke":"#a8a8a8"},"encoding":{"x":{"datum":261,"type":"quantitative","axis":null},"y":{"datum":25,"type":"quantitative","axis":null},"y2":{"datum":35.5}}},
{"mark":{"type":"rule","stroke":"#a8a8a8"},"encoding":{"x":{"datum":313,"type":"quantitative","axis":null},"y":{"datum":25,"type":"quantitative","axis":null},"y2":{"datum":35.5}}},
{"mark":{"type":"rule","stroke":"#a8a8a8"},"encoding":{"x":{"datum":446,"type":"quantitative","axis":null},"y":{"datum":25,"type":"quantitative","axis":null},"y2":{"datum":35.5}}},
{"mark":{"type":"text","text":"RL","align":"left","baseline":"middle","fontSize":7.5,"fill":"#444444"},"encoding":{"x":{"datum":23,"type":"quantitative","axis":null},"y":{"datum":30,"type":"quantitative","axis":null}}},
{"mark":{"type":"text","text":"S","align":"left","baseline":"middle","fontSize":7.5,"fill":"#444444"},"encoding":{"x":{"datum":39,"type":"quantitative","axis":null},"y":{"datum":30,"type":"quantitative","axis":null}}},
{"mark":{"type":"text","text":"RF","align":"left","baseline":"middle","fontSize":7,"fill":"#777777"},"encoding":{"x":{"datum":78,"type":"quantitative","axis":null},"y":{"datum":30,"type":"quantitative","axis":null}}},
{"mark":{"type":"text","text":"50 Ω","align":"left","baseline":"middle","fontSize":7,"fill":"#777777"},"encoding":{"x":{"datum":113,"type":"quantitative","axis":null},"y":{"datum":30,"type":"quantitative","axis":null}}},
{"mark":{"type":"text","text":"AC","align":"left","baseline":"middle","fontSize":7,"fill":"#777777"},"encoding":{"x":{"datum":141,"type":"quantitative","axis":null},"y":{"datum":30,"type":"quantitative","axis":null}}},
{"mark":{"type":"text","text":"SENSE:INT","align":"left","baseline":"middle","fontSize":7,"fill":"#777777"},"encoding":{"x":{"datum":273,"type":"quantitative","axis":null},"y":{"datum":30,"type":"quantitative","axis":null}}},
{"mark":{"type":"text","text":"ALIGN AUTO","align":"left","baseline":"middle","fontSize":7,"fill":"#777777"},"encoding":{"x":{"datum":386,"type":"quantitative","axis":null},"y":{"datum":30,"type":"quantitative","axis":null}}},
{"mark":{"type":"text","text":"08:35:26 PM Jun 20, 2018","align":"left","baseline":"middle","fontSize":7.8,"fill":"#222222"},"encoding":{"x":{"datum":449,"type":"quantitative","axis":null},"y":{"datum":30,"type":"quantitative","axis":null}}},
{"mark":{"type":"rect","fill":"#d0d0d0","stroke":"#7a7a7a","strokeWidth":1},"encoding":{"x":{"datum":6,"type":"quantitative","axis":null},"x2":{"datum":239},"y":{"datum":35.5,"type":"quantitative","axis":null},"y2":{"datum":49.5}}},
{"mark":{"type":"text","text":"Center Freq 5.200000000 GHz","align":"left","baseline":"middle","fontSize":13,"fontWeight":"bold","fill":"#111111"},"encoding":{"x":{"datum":8,"type":"quantitative","axis":null},"y":{"datum":42.8,"type":"quantitative","axis":null}}},
{"mark":{"type":"text","text":"PNO: Fast","align":"left","baseline":"middle","fontSize":8.5,"fontWeight":"bold","fill":"#111111"},"encoding":{"x":{"datum":175,"type":"quantitative","axis":null},"y":{"datum":55.5,"type":"quantitative","axis":null}}},
{"mark":{"type":"text","text":"→•←","align":"left","baseline":"middle","fontSize":8,"fill":"#222222"},"encoding":{"x":{"datum":220,"type":"quantitative","axis":null},"y":{"datum":55.5,"type":"quantitative","axis":null}}},
{"mark":{"type":"text","text":"IFGain:High","align":"left","baseline":"middle","fontSize":8.5,"fontWeight":"bold","fill":"#111111"},"encoding":{"x":{"datum":172,"type":"quantitative","axis":null},"y":{"datum":64.5,"type":"quantitative","axis":null}}},
{"mark":{"type":"text","text":"Trig: Free Run","align":"left","baseline":"middle","fontSize":9,"fontWeight":"bold","fill":"#111111"},"encoding":{"x":{"datum":245,"type":"quantitative","axis":null},"y":{"datum":51,"type":"quantitative","axis":null}}},
{"mark":{"type":"text","text":"#Atten: 0 dB","align":"left","baseline":"middle","fontSize":9,"fontWeight":"bold","fill":"#111111"},"encoding":{"x":{"datum":245,"type":"quantitative","axis":null},"y":{"datum":62.5,"type":"quantitative","axis":null}}},
{"mark":{"type":"text","text":"Avg Type: Log-Pwr","align":"left","baseline":"middle","fontSize":9.5,"fontWeight":"bold","fill":"#111111"},"encoding":{"x":{"datum":343,"type":"quantitative","axis":null},"y":{"datum":40.5,"type":"quantitative","axis":null}}},
{"mark":{"type":"text","text":"Avg|Hold: 5/5","align":"left","baseline":"middle","fontSize":9.5,"fontWeight":"bold","fill":"#111111"},"encoding":{"x":{"datum":343,"type":"quantitative","axis":null},"y":{"datum":51.5,"type":"quantitative","axis":null}}},
{"mark":{"type":"rect","fill":"#ffffff","stroke":"#c4c4c4","strokeWidth":0.8},"encoding":{"x":{"datum":500,"type":"quantitative","axis":null},"x2":{"datum":541},"y":{"datum":35,"type":"quantitative","axis":null},"y2":{"datum":67}}},
{"mark":{"type":"text","text":"TRACE","align":"right","baseline":"middle","fontSize":6.5,"fill":"#555555"},"encoding":{"x":{"datum":498,"type":"quantitative","axis":null},"y":{"datum":40,"type":"quantitative","axis":null}}},
{"mark":{"type":"text","text":"TYPE","align":"right","baseline":"middle","fontSize":6.5,"fill":"#555555"},"encoding":{"x":{"datum":498,"type":"quantitative","axis":null},"y":{"datum":50.5,"type":"quantitative","axis":null}}},
{"mark":{"type":"text","text":"DET","align":"right","baseline":"middle","fontSize":6.5,"fill":"#555555"},"encoding":{"x":{"datum":498,"type":"quantitative","axis":null},"y":{"datum":60.5,"type":"quantitative","axis":null}}},
{"mark":{"type":"text","text":"1","align":"center","baseline":"middle","fontSize":9,"fontWeight":"bold","fill":"#e6c000"},"encoding":{"x":{"datum":504,"type":"quantitative","axis":null},"y":{"datum":41.5,"type":"quantitative","axis":null}}},
{"mark":{"type":"text","text":"2","align":"center","baseline":"middle","fontSize":9,"fontWeight":"bold","fill":"#22bbee"},"encoding":{"x":{"datum":511,"type":"quantitative","axis":null},"y":{"datum":41.5,"type":"quantitative","axis":null}}},
{"mark":{"type":"text","text":"3","align":"center","baseline":"middle","fontSize":9,"fontWeight":"bold","fill":"#ff44ff"},"encoding":{"x":{"datum":518,"type":"quantitative","axis":null},"y":{"datum":41.5,"type":"quantitative","axis":null}}},
{"mark":{"type":"text","text":"4","align":"center","baseline":"middle","fontSize":9,"fontWeight":"bold","fill":"#33cc55"},"encoding":{"x":{"datum":525,"type":"quantitative","axis":null},"y":{"datum":41.5,"type":"quantitative","axis":null}}},
{"mark":{"type":"text","text":"5","align":"center","baseline":"middle","fontSize":9,"fontWeight":"bold","fill":"#dd44aa"},"encoding":{"x":{"datum":532,"type":"quantitative","axis":null},"y":{"datum":41.5,"type":"quantitative","axis":null}}},
{"mark":{"type":"text","text":"6","align":"center","baseline":"middle","fontSize":9,"fontWeight":"bold","fill":"#8844ff"},"encoding":{"x":{"datum":538.5,"type":"quantitative","axis":null},"y":{"datum":41.5,"type":"quantitative","axis":null}}},
{"mark":{"type":"text","text":"M","align":"center","baseline":"middle","fontSize":7,"fontWeight":"bold","fill":"#333333"},"encoding":{"x":{"datum":504,"type":"quantitative","axis":null},"y":{"datum":50.5,"type":"quantitative","axis":null}}},
{"mark":{"type":"text","text":"WWWWW","align":"left","baseline":"middle","fontSize":5.5,"fill":"#9a9a9a"},"encoding":{"x":{"datum":508,"type":"quantitative","axis":null},"y":{"datum":50.5,"type":"quantitative","axis":null}}},
{"mark":{"type":"text","text":"P","align":"center","baseline":"middle","fontSize":8,"fill":"#777777"},"encoding":{"x":{"datum":504,"type":"quantitative","axis":null},"y":{"datum":60.5,"type":"quantitative","axis":null}}},
{"mark":{"type":"text","text":"N N N N N","align":"left","baseline":"middle","fontSize":7.5,"fontWeight":"bold","fill":"#1fb01f"},"encoding":{"x":{"datum":508,"type":"quantitative","axis":null},"y":{"datum":60.5,"type":"quantitative","axis":null}}},
{"mark":{"type":"rect","fill":"transparent","stroke":"#1ff01f","strokeWidth":2.5},"encoding":{"x":{"datum":6.5,"type":"quantitative","axis":null},"x2":{"datum":541},"y":{"datum":72.5,"type":"quantitative","axis":null},"y2":{"datum":315}}},
{"mark":{"type":"text","text":"Ref Offset 43.8 dB","align":"left","baseline":"middle","fontSize":10,"fill":"#111111"},"encoding":{"x":{"datum":71,"type":"quantitative","axis":null},"y":{"datum":87,"type":"quantitative","axis":null}}},
{"mark":{"type":"text","text":"Ref 20.00 dBm","align":"left","baseline":"middle","fontSize":12,"fontWeight":"bold","fill":"#111111"},"encoding":{"x":{"datum":71,"type":"quantitative","axis":null},"y":{"datum":99.5,"type":"quantitative","axis":null}}},
{"mark":{"type":"text","text":"10 dB/div","align":"left","baseline":"middle","fontSize":10,"fill":"#9a9a9a"},"encoding":{"x":{"datum":9,"type":"quantitative","axis":null},"y":{"datum":100,"type":"quantitative","axis":null}}},
{"mark":{"type":"text","text":"Log","align":"left","baseline":"middle","fontSize":10,"fill":"#9a9a9a"},"encoding":{"x":{"datum":9,"type":"quantitative","axis":null},"y":{"datum":110,"type":"quantitative","axis":null}}},
{"mark":{"type":"text","text":"Mkr1 2.822 8 GHz","align":"right","baseline":"middle","fontSize":14,"fontWeight":"bold","fill":"#2fdf2f"},"encoding":{"x":{"datum":538.5,"type":"quantitative","axis":null},"y":{"datum":81.5,"type":"quantitative","axis":null}}},
{"mark":{"type":"text","text":"-28.055 dBm","align":"right","baseline":"middle","fontSize":14,"fontWeight":"bold","fill":"#2fdf2f"},"encoding":{"x":{"datum":538.5,"type":"quantitative","axis":null},"y":{"datum":96,"type":"quantitative","axis":null}}},
{"mark":{"type":"text","text":"Start 1.000 GHz","align":"left","baseline":"middle","fontSize":12,"fontWeight":"bold","fill":"#111111"},"encoding":{"x":{"datum":9,"type":"quantitative","axis":null},"y":{"datum":296.5,"type":"quantitative","axis":null}}},
{"mark":{"type":"text","text":"Stop 9.400 GHz","align":"right","baseline":"middle","fontSize":12,"fontWeight":"bold","fill":"#111111"},"encoding":{"x":{"datum":538.5,"type":"quantitative","axis":null},"y":{"datum":296.5,"type":"quantitative","axis":null}}},
{"mark":{"type":"text","text":"#Res BW 1.0 MHz","align":"left","baseline":"middle","fontSize":12,"fontWeight":"bold","fill":"#111111"},"encoding":{"x":{"datum":9,"type":"quantitative","axis":null},"y":{"datum":309.5,"type":"quantitative","axis":null}}},
{"mark":{"type":"text","text":"VBW 50 MHz","align":"left","baseline":"middle","fontSize":12,"fontWeight":"bold","fill":"#111111"},"encoding":{"x":{"datum":202,"type":"quantitative","axis":null},"y":{"datum":309.5,"type":"quantitative","axis":null}}},
{"mark":{"type":"text","text":"Sweep\u00a0\u00a014.00 ms (1001 pts)","align":"right","baseline":"middle","fontSize":12,"fontWeight":"bold","fill":"#111111"},"encoding":{"x":{"datum":538.5,"type":"quantitative","axis":null},"y":{"datum":309.5,"type":"quantitative","axis":null}}},
{"mark":{"type":"rect","fill":"transparent","stroke":"#a0a0a0","strokeWidth":1},"encoding":{"x":{"datum":6,"type":"quantitative","axis":null},"x2":{"datum":541},"y":{"datum":318.5,"type":"quantitative","axis":null},"y2":{"datum":464}}},
{"mark":{"type":"rect","fill":"#1e1e1e"},"encoding":{"x":{"datum":6,"type":"quantitative","axis":null},"x2":{"datum":530},"y":{"datum":323.5,"type":"quantitative","axis":null},"y2":{"datum":334}}},
{"mark":{"type":"rule","stroke":"#c8c8c8"},"encoding":{"x":{"datum":27.5,"type":"quantitative","axis":null},"y":{"datum":323.5,"type":"quantitative","axis":null},"y2":{"datum":455}}},
{"mark":{"type":"rule","stroke":"#c8c8c8"},"encoding":{"x":{"datum":51.5,"type":"quantitative","axis":null},"y":{"datum":323.5,"type":"quantitative","axis":null},"y2":{"datum":455}}},
{"mark":{"type":"rule","stroke":"#c8c8c8"},"encoding":{"x":{"datum":70.5,"type":"quantitative","axis":null},"y":{"datum":323.5,"type":"quantitative","axis":null},"y2":{"datum":455}}},
{"mark":{"type":"rule","stroke":"#c8c8c8"},"encoding":{"x":{"datum":89.5,"type":"quantitative","axis":null},"y":{"datum":323.5,"type":"quantitative","axis":null},"y2":{"datum":455}}},
{"mark":{"type":"rule","stroke":"#c8c8c8"},"encoding":{"x":{"datum":213.5,"type":"quantitative","axis":null},"y":{"datum":323.5,"type":"quantitative","axis":null},"y2":{"datum":455}}},
{"mark":{"type":"rule","stroke":"#c8c8c8"},"encoding":{"x":{"datum":300.5,"type":"quantitative","axis":null},"y":{"datum":323.5,"type":"quantitative","axis":null},"y2":{"datum":455}}},
{"mark":{"type":"rule","stroke":"#c8c8c8"},"encoding":{"x":{"datum":367,"type":"quantitative","axis":null},"y":{"datum":323.5,"type":"quantitative","axis":null},"y2":{"datum":455}}},
{"mark":{"type":"rule","stroke":"#c8c8c8"},"encoding":{"x":{"datum":436,"type":"quantitative","axis":null},"y":{"datum":323.5,"type":"quantitative","axis":null},"y2":{"datum":455}}},
{"mark":{"type":"text","text":"MKR","align":"center","baseline":"middle","fontSize":6.5,"fill":"#ffffff"},"encoding":{"x":{"datum":17,"type":"quantitative","axis":null},"y":{"datum":329,"type":"quantitative","axis":null}}},
{"mark":{"type":"text","text":"MODE","align":"center","baseline":"middle","fontSize":6.5,"fill":"#ffffff"},"encoding":{"x":{"datum":39.5,"type":"quantitative","axis":null},"y":{"datum":329,"type":"quantitative","axis":null}}},
{"mark":{"type":"text","text":"TRC","align":"center","baseline":"middle","fontSize":6.5,"fill":"#ffffff"},"encoding":{"x":{"datum":61,"type":"quantitative","axis":null},"y":{"datum":329,"type":"quantitative","axis":null}}},
{"mark":{"type":"text","text":"SCL","align":"center","baseline":"middle","fontSize":6.5,"fill":"#ffffff"},"encoding":{"x":{"datum":80,"type":"quantitative","axis":null},"y":{"datum":329,"type":"quantitative","axis":null}}},
{"mark":{"type":"text","text":"X","align":"center","baseline":"middle","fontSize":6.5,"fill":"#ffffff"},"encoding":{"x":{"datum":151.5,"type":"quantitative","axis":null},"y":{"datum":329,"type":"quantitative","axis":null}}},
{"mark":{"type":"text","text":"Y","align":"center","baseline":"middle","fontSize":6.5,"fill":"#ffffff"},"encoding":{"x":{"datum":257,"type":"quantitative","axis":null},"y":{"datum":329,"type":"quantitative","axis":null}}},
{"mark":{"type":"text","text":"FUNCTION","align":"center","baseline":"middle","fontSize":6.5,"fill":"#ffffff"},"encoding":{"x":{"datum":334,"type":"quantitative","axis":null},"y":{"datum":329,"type":"quantitative","axis":null}}},
{"mark":{"type":"text","text":"FUNCTION WIDTH","align":"center","baseline":"middle","fontSize":6.5,"fill":"#ffffff"},"encoding":{"x":{"datum":401.5,"type":"quantitative","axis":null},"y":{"datum":329,"type":"quantitative","axis":null}}},
{"mark":{"type":"text","text":"FUNCTION VALUE","align":"center","baseline":"middle","fontSize":6.5,"fill":"#ffffff"},"encoding":{"x":{"datum":483,"type":"quantitative","axis":null},"y":{"datum":329,"type":"quantitative","axis":null}}},
{"mark":{"type":"rect","fill":"#22dd22"},"encoding":{"x":{"datum":7,"type":"quantitative","axis":null},"x2":{"datum":27},"y":{"datum":336,"type":"quantitative","axis":null},"y2":{"datum":346.5}}},
{"mark":{"type":"text","text":"1","align":"center","baseline":"middle","fontSize":11,"fontWeight":"bold","fill":"#111111"},"encoding":{"x":{"datum":17.5,"type":"quantitative","axis":null},"y":{"datum":341.3,"type":"quantitative","axis":null}}},
{"mark":{"type":"text","text":["2","3","4","5","6","7","8","9","10","11"],"lineHeight":10.6,"align":"center","baseline":"top","fontSize":11,"fontWeight":"bold","fill":"#111111"},"encoding":{"x":{"datum":17.5,"type":"quantitative","axis":null},"y":{"datum":347,"type":"quantitative","axis":null}}},
{"mark":{"type":"text","text":"N","align":"center","baseline":"middle","fontSize":10.5,"fontWeight":"bold","fill":"#111111"},"encoding":{"x":{"datum":39.5,"type":"quantitative","axis":null},"y":{"datum":341.3,"type":"quantitative","axis":null}}},
{"mark":{"type":"text","text":"1","align":"center","baseline":"middle","fontSize":10.5,"fontWeight":"bold","fill":"#f2e200"},"encoding":{"x":{"datum":60,"type":"quantitative","axis":null},"y":{"datum":341.3,"type":"quantitative","axis":null}}},
{"mark":{"type":"text","text":"f","align":"center","baseline":"middle","fontSize":10.5,"fontWeight":"bold","fill":"#111111"},"encoding":{"x":{"datum":79,"type":"quantitative","axis":null},"y":{"datum":341.3,"type":"quantitative","axis":null}}},
{"mark":{"type":"text","text":"2.822 8 GHz","align":"right","baseline":"middle","fontSize":10.5,"fill":"#111111"},"encoding":{"x":{"datum":210,"type":"quantitative","axis":null},"y":{"datum":341.3,"type":"quantitative","axis":null}}},
{"mark":{"type":"text","text":"-28.055 dBm","align":"right","baseline":"middle","fontSize":10.5,"fill":"#111111"},"encoding":{"x":{"datum":297,"type":"quantitative","axis":null},"y":{"datum":341.3,"type":"quantitative","axis":null}}},
{"mark":{"type":"rect","fill":"#c9dbf7"},"encoding":{"x":{"datum":530,"type":"quantitative","axis":null},"x2":{"datum":541},"y":{"datum":323.5,"type":"quantitative","axis":null},"y2":{"datum":455}}},
{"mark":{"type":"rect","fill":"#e3ecfa","stroke":"#9fb4d8","strokeWidth":0.8},"encoding":{"x":{"datum":530,"type":"quantitative","axis":null},"x2":{"datum":541},"y":{"datum":323.5,"type":"quantitative","axis":null},"y2":{"datum":334}}},
{"mark":{"type":"rect","fill":"#e3ecfa","stroke":"#9fb4d8","strokeWidth":0.8},"encoding":{"x":{"datum":530,"type":"quantitative","axis":null},"x2":{"datum":541},"y":{"datum":444.5,"type":"quantitative","axis":null},"y2":{"datum":455}}},
{"mark":{"type":"rect","fill":"#c9dbf7"},"encoding":{"x":{"datum":6,"type":"quantitative","axis":null},"x2":{"datum":541},"y":{"datum":455,"type":"quantitative","axis":null},"y2":{"datum":463.5}}},
{"mark":{"type":"rect","fill":"#e3ecfa","stroke":"#9fb4d8","strokeWidth":0.8},"encoding":{"x":{"datum":6,"type":"quantitative","axis":null},"x2":{"datum":17},"y":{"datum":455,"type":"quantitative","axis":null},"y2":{"datum":463.5}}},
{"mark":{"type":"rect","fill":"#e3ecfa","stroke":"#9fb4d8","strokeWidth":0.8},"encoding":{"x":{"datum":525,"type":"quantitative","axis":null},"x2":{"datum":541},"y":{"datum":455,"type":"quantitative","axis":null},"y2":{"datum":463.5}}},
{"mark":{"type":"rule","stroke":"#9a9a9a"},"encoding":{"x":{"datum":5,"type":"quantitative","axis":null},"x2":{"datum":641},"y":{"datum":465.5,"type":"quantitative","axis":null}}},
{"mark":{"type":"text","text":"MSG","align":"left","baseline":"middle","fontSize":6.5,"fill":"#555555"},"encoding":{"x":{"datum":7,"type":"quantitative","axis":null},"y":{"datum":474,"type":"quantitative","axis":null}}},
{"mark":{"type":"rule","stroke":"#aaaaaa"},"encoding":{"x":{"datum":21,"type":"quantitative","axis":null},"y":{"datum":466,"type":"quantitative","axis":null},"y2":{"datum":481}}},
{"mark":{"type":"rule","stroke":"#aaaaaa"},"encoding":{"x":{"datum":407,"type":"quantitative","axis":null},"y":{"datum":466,"type":"quantitative","axis":null},"y2":{"datum":481}}},
{"mark":{"type":"rule","stroke":"#aaaaaa"},"encoding":{"x":{"datum":439,"type":"quantitative","axis":null},"y":{"datum":466,"type":"quantitative","axis":null},"y2":{"datum":481}}},
{"mark":{"type":"text","text":"STATUS","align":"left","baseline":"middle","fontSize":6.5,"fill":"#555555"},"encoding":{"x":{"datum":410,"type":"quantitative","axis":null},"y":{"datum":474,"type":"quantitative","axis":null}}},
{"mark":{"type":"rect","fill":"#e2e2e2"},"encoding":{"x":{"datum":541.5,"type":"quantitative","axis":null},"x2":{"datum":641},"y":{"datum":24,"type":"quantitative","axis":null},"y2":{"datum":465}}},
{"mark":{"type":"rect","fill":"#ffffff","stroke":"#8a8a8a","strokeWidth":1},"encoding":{"x":{"datum":545,"type":"quantitative","axis":null},"x2":{"datum":640},"y":{"datum":25,"type":"quantitative","axis":null},"y2":{"datum":49}}},
{"mark":{"type":"rect","fill":"#ffffff","stroke":"#5a5a5a","strokeWidth":1.5},"encoding":{"x":{"datum":545,"type":"quantitative","axis":null},"x2":{"datum":640},"y":{"datum":51,"type":"quantitative","axis":null},"y2":{"datum":98.5}}},
{"mark":{"type":"rect","fill":"#ffffff","stroke":"#5a5a5a","strokeWidth":1.5},"encoding":{"x":{"datum":545,"type":"quantitative","axis":null},"x2":{"datum":640},"y":{"datum":109,"type":"quantitative","axis":null},"y2":{"datum":157.5}}},
{"mark":{"type":"rect","fill":"#ffffff","stroke":"#5a5a5a","strokeWidth":1.5},"encoding":{"x":{"datum":545,"type":"quantitative","axis":null},"x2":{"datum":640},"y":{"datum":168.5,"type":"quantitative","axis":null},"y2":{"datum":217}}},
{"mark":{"type":"rect","fill":"#ffffff","stroke":"#5a5a5a","strokeWidth":1.5},"encoding":{"x":{"datum":545,"type":"quantitative","axis":null},"x2":{"datum":640},"y":{"datum":228,"type":"quantitative","axis":null},"y2":{"datum":276.5}}},
{"mark":{"type":"rect","fill":"#ffffff","stroke":"#5a5a5a","strokeWidth":1.5},"encoding":{"x":{"datum":545,"type":"quantitative","axis":null},"x2":{"datum":640},"y":{"datum":287.5,"type":"quantitative","axis":null},"y2":{"datum":336}}},
{"mark":{"type":"rect","fill":"#ffffff","stroke":"#5a5a5a","strokeWidth":1.5},"encoding":{"x":{"datum":545,"type":"quantitative","axis":null},"x2":{"datum":640},"y":{"datum":347,"type":"quantitative","axis":null},"y2":{"datum":395.5}}},
{"mark":{"type":"rect","fill":"#ffffff","stroke":"#5a5a5a","strokeWidth":1.5},"encoding":{"x":{"datum":545,"type":"quantitative","axis":null},"x2":{"datum":640},"y":{"datum":404,"type":"quantitative","axis":null},"y2":{"datum":464}}},
{"mark":{"type":"text","text":"Frequency","align":"center","baseline":"middle","fontSize":11,"fill":"#111111"},"encoding":{"x":{"datum":592.5,"type":"quantitative","axis":null},"y":{"datum":37,"type":"quantitative","axis":null}}},
{"mark":{"type":"text","text":"Auto Tune","align":"right","baseline":"middle","fontSize":12,"fontWeight":"bold","fill":"#111111"},"encoding":{"x":{"datum":638.5,"type":"quantitative","axis":null},"y":{"datum":76,"type":"quantitative","axis":null}}},
{"mark":{"type":"text","text":"Center Freq","align":"right","baseline":"middle","fontSize":12,"fontWeight":"bold","fill":"#111111"},"encoding":{"x":{"datum":638.5,"type":"quantitative","axis":null},"y":{"datum":126,"type":"quantitative","axis":null}}},
{"mark":{"type":"text","text":"5.200000000 GHz","align":"right","baseline":"middle","fontSize":10,"fill":"#111111"},"encoding":{"x":{"datum":638.5,"type":"quantitative","axis":null},"y":{"datum":141.7,"type":"quantitative","axis":null}}},
{"mark":{"type":"text","text":"Start Freq","align":"right","baseline":"middle","fontSize":12,"fontWeight":"bold","fill":"#111111"},"encoding":{"x":{"datum":638.5,"type":"quantitative","axis":null},"y":{"datum":185,"type":"quantitative","axis":null}}},
{"mark":{"type":"text","text":"1.000000000 GHz","align":"right","baseline":"middle","fontSize":10,"fill":"#111111"},"encoding":{"x":{"datum":638.5,"type":"quantitative","axis":null},"y":{"datum":200.7,"type":"quantitative","axis":null}}},
{"mark":{"type":"text","text":"Stop Freq","align":"right","baseline":"middle","fontSize":12,"fontWeight":"bold","fill":"#111111"},"encoding":{"x":{"datum":638.5,"type":"quantitative","axis":null},"y":{"datum":244.3,"type":"quantitative","axis":null}}},
{"mark":{"type":"text","text":"9.400000000 GHz","align":"right","baseline":"middle","fontSize":10,"fill":"#111111"},"encoding":{"x":{"datum":638.5,"type":"quantitative","axis":null},"y":{"datum":260,"type":"quantitative","axis":null}}},
{"mark":{"type":"text","text":"CF Step","align":"right","baseline":"middle","fontSize":12,"fontWeight":"bold","fill":"#111111"},"encoding":{"x":{"datum":638.5,"type":"quantitative","axis":null},"y":{"datum":297,"type":"quantitative","axis":null}}},
{"mark":{"type":"text","text":"840.000000 MHz","align":"right","baseline":"middle","fontSize":10,"fill":"#111111"},"encoding":{"x":{"datum":638.5,"type":"quantitative","axis":null},"y":{"datum":310,"type":"quantitative","axis":null}}},
{"mark":{"type":"text","text":"Auto","align":"left","baseline":"middle","fontSize":10,"fill":"#111111"},"encoding":{"x":{"datum":547,"type":"quantitative","axis":null},"y":{"datum":322.7,"type":"quantitative","axis":null}}},
{"mark":{"type":"rule","stroke":"#111111"},"encoding":{"x":{"datum":547,"type":"quantitative","axis":null},"x2":{"datum":567},"y":{"datum":328,"type":"quantitative","axis":null}}},
{"mark":{"type":"text","text":"Man","align":"right","baseline":"middle","fontSize":10,"fill":"#111111"},"encoding":{"x":{"datum":638.5,"type":"quantitative","axis":null},"y":{"datum":322.7,"type":"quantitative","axis":null}}},
{"mark":{"type":"text","text":"Freq Offset","align":"right","baseline":"middle","fontSize":12,"fontWeight":"bold","fill":"#111111"},"encoding":{"x":{"datum":638.5,"type":"quantitative","axis":null},"y":{"datum":362,"type":"quantitative","axis":null}}},
{"mark":{"type":"text","text":"0 Hz","align":"right","baseline":"middle","fontSize":10,"fill":"#111111"},"encoding":{"x":{"datum":638.5,"type":"quantitative","axis":null},"y":{"datum":378.3,"type":"quantitative","axis":null}}}
]},
{"data":{"values":[{}]},"layer":[
{"data":{"name":"right"},"mark":{"type":"line","stroke":"#f7a21b","strokeWidth":1},"encoding":{"x":{"field":"f","type":"quantitative","scale":{"domain":[1000,9400],"nice":false,"zero":false},"axis":{"values":[1000,1840,2680,3520,4360,5200,6040,6880,7720,8560,9400],"tickCount":20,"grid":true,"gridColor":"#c0c0c0","gridWidth":1.3,"labels":false,"ticks":false,"domain":false,"title":null,"minExtent":0}},"y":{"field":"p","type":"quantitative","scale":{"domain":[-80,20],"nice":false,"zero":false},"axis":{"values":[20,10,0,-10,-20,-30,-40,-50,-60,-70,-80],"tickCount":20,"labelOverlap":false,"grid":true,"gridColor":"#c0c0c0","gridWidth":1.3,"ticks":false,"domain":false,"title":null,"labelExpr":"datum.value == 0 ? '0.00' : ((datum.value >= 20 || datum.value <= -80) ? '' : datum.value + '.0')","labelFont":"Liberation Sans","labelFontSize":9,"labelColor":"#a0a0a0","labelPadding":4,"minExtent":0}}}},
{"mark":{"type":"rect","fill":"transparent","stroke":"#8c8c8c","strokeWidth":1.5},"encoding":{"x":{"datum":1000,"type":"quantitative"},"x2":{"datum":9400},"y":{"datum":-80,"type":"quantitative"},"y2":{"datum":20}}},
{"mark":{"type":"rule","stroke":"#3ddc3d","strokeWidth":1},"encoding":{"x":{"datum":1000,"type":"quantitative"},"x2":{"datum":9400},"y":{"datum":-13,"type":"quantitative"}}},
{"mark":{"type":"text","text":"-13.00 dBm","align":"right","baseline":"bottom","fontSize":6,"fill":"#3ddc3d","dy":-0.5},"encoding":{"x":{"datum":9400,"type":"quantitative"},"y":{"datum":-13,"type":"quantitative"}}},
{"mark":{"type":"point","shape":"M0,-1L0.6,0L0,1L-0.6,0Z","size":256,"filled":true,"fill":"#22cc22","stroke":"#0c6e0c","strokeWidth":0.8,"opacity":1},"encoding":{"x":{"datum":2822.8,"type":"quantitative"},"y":{"datum":-21.5,"type":"quantitative"}}},
{"mark":{"type":"text","text":"1","align":"left","baseline":"middle","fontSize":11,"fill":"#f7a21b","dx":5},"encoding":{"x":{"datum":2822.8,"type":"quantitative"},"y":{"datum":-18,"type":"quantitative"}}}
]}
]
}
]
}
